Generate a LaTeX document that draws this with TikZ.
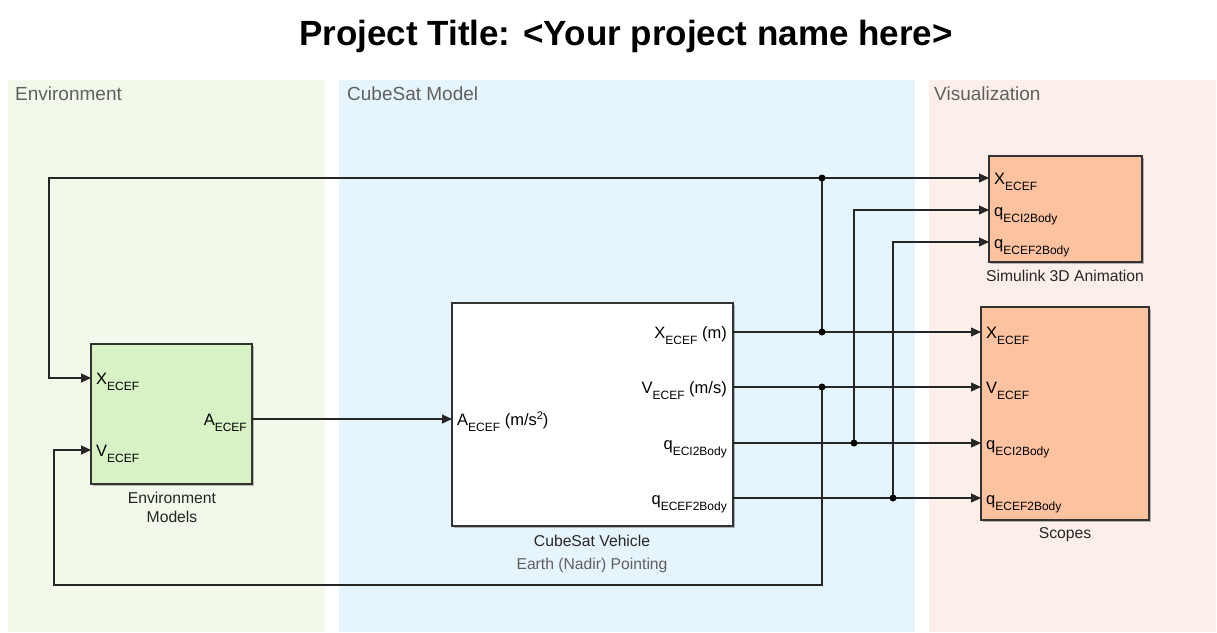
\documentclass[tikz,border=0pt]{standalone}
\usepackage{fontspec}
\setmainfont{Liberation Sans}
\usetikzlibrary{arrows.meta,shadows}
\definecolor{envbg}{HTML}{F2F8EA}
\definecolor{cubebg}{HTML}{E6F4FD}
\definecolor{visbg}{HTML}{FCEEE9}
\definecolor{envblk}{HTML}{D9F2C5}
\definecolor{orblk}{HTML}{FDC2A0}
\definecolor{lblgray}{HTML}{606060}
\newcommand{\sbs}[1]{\raisebox{-6.5pt}{\fontsize{12}{12}\selectfont #1}}
\newcommand{\sps}[1]{\raisebox{6pt}{\fontsize{11}{11}\selectfont #1}}
\begin{document}
\begin{tikzpicture}[x=1pt,y=-1pt,
  region/.style={draw=none,anchor=north west,inner sep=0pt},
  regionlbl/.style={anchor=base west,inner sep=0pt,text=lblgray,font=\fontsize{19}{19}\selectfont},
  blk/.style={draw=black!80,line width=1.2pt,inner sep=0pt,drop shadow={shadow xshift=2pt,shadow yshift=-2pt,opacity=0.45,fill=black!60}},
  port/.style={inner sep=0pt,font=\fontsize{16.5}{16.5}\selectfont},
  blklbl/.style={inner sep=0pt,anchor=base,font=\fontsize{15.7}{15.7}\selectfont,text=black!85},
  sig/.style={line width=1.2pt,draw=black!85},
  arr/.style={sig,-{Triangle[length=10pt,width=9pt]}},
  dot/.style={circle,fill=black,inner sep=0pt,minimum size=7pt}]
\useasboundingbox (0,0) rectangle (1217,632);
% title
\node[font=\bfseries\fontsize{35}{35}\selectfont,anchor=base] (title) at (626,45) {Project Title: <Your project name here>};
% regions
\node[region,fill=envbg,minimum width=317pt,minimum height=552pt] (envreg) at (8,80) {};
\node[region,fill=cubebg,minimum width=576pt,minimum height=552pt] (cubereg) at (339,80) {};
\node[region,fill=visbg,minimum width=287pt,minimum height=552pt] (visreg) at (929,80) {};
\node[regionlbl] (envlbl) at (15,100) {Environment};
\node[regionlbl] (cubelbl) at (347,100) {CubeSat Model};
\node[regionlbl] (vislbl) at (934,100) {Visualization};
% blocks
\node[blk,fill=envblk,minimum width=161pt,minimum height=140pt] (env) at (171.5,414) {};
\node[blk,fill=white,minimum width=281pt,minimum height=223pt] (cube) at (592.5,414.5) {};
\node[blk,fill=orblk,minimum width=153pt,minimum height=106pt] (sim) at (1065.5,209) {};
\node[blk,fill=orblk,minimum width=168pt,minimum height=213pt] (scope) at (1065,413.5) {};
% block labels
\node[blklbl] (envname1) at (172,503) {Environment};
\node[blklbl] (envname2) at (172,522) {Models};
\node[blklbl] (cubename) at (592,546) {CubeSat Vehicle};
\node[blklbl,text=lblgray] (cubesub) at (592,569) {Earth (Nadir) Pointing};
\node[blklbl] (simname) at (1065,281) {Simulink 3D Animation};
\node[blklbl] (scopename) at (1065,538) {Scopes};
% port coordinates
\coordinate (envX) at (91,378);
\coordinate (envV) at (91,450);
\coordinate (envA) at (252,419);
\coordinate (cubeA) at (452,419);
\coordinate (cubeX) at (733,332);
\coordinate (cubeV) at (733,387);
\coordinate (cubeQi) at (733,443);
\coordinate (cubeQe) at (733,498);
\coordinate (simX) at (989,178);
\coordinate (simQi) at (989,210);
\coordinate (simQe) at (989,242);
\coordinate (scX) at (981,332);
\coordinate (scV) at (981,387);
\coordinate (scQi) at (981,443);
\coordinate (scQe) at (981,498);
% port labels
\node[port,anchor=base west] (lenvX) at (96,384) {X\sbs{ECEF}};
\node[port,anchor=base west] (lenvV) at (96,456) {V\sbs{ECEF}};
\node[port,anchor=base east] (lenvA) at (247,425) {A\sbs{ECEF}};
\node[port,anchor=base west] (lcubeA) at (457,425) {A\sbs{ECEF} (m/s\sps{2})};
\node[port,anchor=base east] (lcubeX) at (727,338) {X\sbs{ECEF} (m)};
\node[port,anchor=base east] (lcubeV) at (727,393) {V\sbs{ECEF} (m/s)};
\node[port,anchor=base east] (lcubeQi) at (727,449) {q\sbs{ECI2Body}};
\node[port,anchor=base east] (lcubeQe) at (727,504) {q\sbs{ECEF2Body}};
\node[port,anchor=base west] (lsimX) at (994,184) {X\sbs{ECEF}};
\node[port,anchor=base west] (lsimQi) at (994,216) {q\sbs{ECI2Body}};
\node[port,anchor=base west] (lsimQe) at (994,248) {q\sbs{ECEF2Body}};
\node[port,anchor=base west] (lscX) at (986,338) {X\sbs{ECEF}};
\node[port,anchor=base west] (lscV) at (986,393) {V\sbs{ECEF}};
\node[port,anchor=base west] (lscQi) at (986,449) {q\sbs{ECI2Body}};
\node[port,anchor=base west] (lscQe) at (986,504) {q\sbs{ECEF2Body}};
% junctions
\coordinate (jX) at (822,332);
\coordinate (jXt) at (822,178);
\coordinate (jV) at (822,387);
\coordinate (jQi) at (854,443);
\coordinate (jQe) at (893,498);
\coordinate (tl) at (49,178);
\coordinate (bl) at (54,585);
\coordinate (br) at (822,585);
\coordinate (qit) at (854,210);
\coordinate (qet) at (893,242);
% connectors
\draw[arr] (envA) -- (cubeA);
\draw[arr] (cubeX) -- (scX);
\draw[sig] (jX) -- (jXt);
\draw[arr] (jXt) -- (simX);
\draw[arr] (jXt) -- (tl) |- (envX);
\draw[arr] (cubeV) -- (scV);
\draw[arr] (jV) -- (br) -- (bl) |- (envV);
\draw[arr] (cubeQi) -- (scQi);
\draw[arr] (jQi) -- (qit) -- (simQi);
\draw[arr] (cubeQe) -- (scQe);
\draw[arr] (jQe) -- (qet) -- (simQe);
% dots
\node[dot] (dX) at (jX) {};
\node[dot] (dXt) at (jXt) {};
\node[dot] (dV) at (jV) {};
\node[dot] (dQi) at (jQi) {};
\node[dot] (dQe) at (jQe) {};
\end{tikzpicture}
\end{document}
